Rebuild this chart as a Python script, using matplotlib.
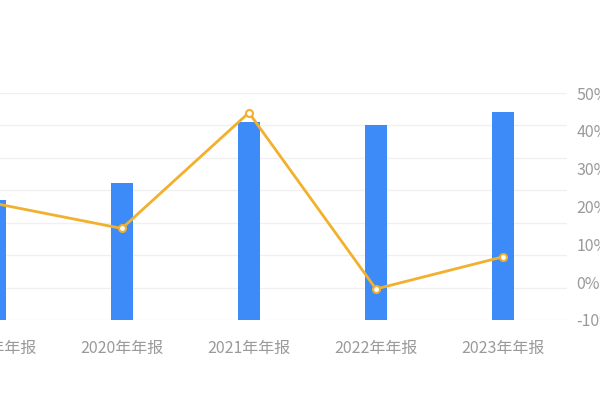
import matplotlib
matplotlib.use("Agg")
import matplotlib.pyplot as plt
from matplotlib.ticker import FuncFormatter

plt.rcParams["font.family"] = ["Noto Sans CJK SC", "DejaVu Sans"]

periods = ["2019年年报", "2020年年报", "2021年年报", "2022年年报", "2023年年报"]
bar_values = [37.0, 42.3, 61.1, 60.1, 64.0]      # left axis, labels cropped off
growth_pct = [20.8, 14.2, 44.8, -1.8, 6.7]       # right axis, %

BAR_COLOR = "#3d8bf8"
LINE_COLOR = "#f2b02c"
TEXT_COLOR = "#9a9a9a"
GRID_COLOR = "#f0f0f0"

fig = plt.figure(figsize=(6, 4), dpi=100)
# the reference is a crop: the first category and the right labels run off the edges
ax = fig.add_axes([-0.1145, 0.2, 1.0587, 0.5675])
x = range(len(periods))
ax.bar(x, bar_values, width=0.17, color=BAR_COLOR, zorder=2)
ax.set_xlim(-0.5, len(periods) - 0.5)
ax.set_ylim(0, 70)
ax.set_yticks(range(0, 71, 10))
ax.grid(axis="y", color=GRID_COLOR, linewidth=1, zorder=0)
ax.set_xticks(list(x))
ax.set_xticklabels(periods)
ax.tick_params(axis="x", length=0, pad=14, colors=TEXT_COLOR, labelsize=11.5)
ax.tick_params(axis="y", length=0, labelleft=False)
for s in ax.spines.values():
    s.set_visible(False)

ax2 = ax.twinx()
ax2.plot(x, growth_pct, color=LINE_COLOR, linewidth=2, marker="o", markersize=5,
         markerfacecolor="white", markeredgecolor=LINE_COLOR, markeredgewidth=1.5, zorder=3)
ax2.set_ylim(-10, 50)
ax2.set_yticks(range(-10, 51, 10))
ax2.yaxis.set_major_formatter(FuncFormatter(lambda v, _: f"{v:.0f}%"))
ax2.tick_params(axis="y", length=0, pad=7, colors=TEXT_COLOR, labelsize=11.5)
for s in ax2.spines.values():
    s.set_visible(False)

fig.savefig("out.png", dpi=100, facecolor="white")
